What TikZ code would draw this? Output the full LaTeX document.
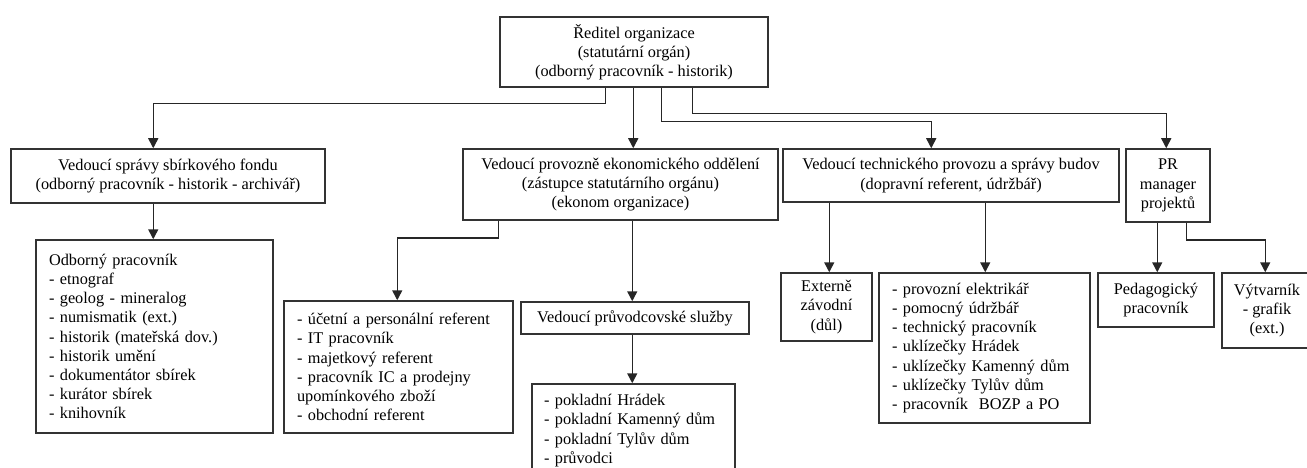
\documentclass[tikz,border=0pt]{standalone}
\usepackage{fontspec}
\setmainfont{Liberation Serif}
\usetikzlibrary{arrows.meta}
\begin{document}
\begin{tikzpicture}[x=1pt,y=-1pt,
  box/.style={draw=black!80, line width=1.5pt, inner sep=0pt, align=center,
    font=\fontsize{16.3}{19.2}\selectfont, minimum width=#1},
  listbox/.style={draw=black!80, line width=1.5pt, inner ysep=0pt, inner xsep=13pt, align=left,
    font=\fontsize{16.3}{19.2}\selectfont, text width=#1-26pt},
  arr/.style={draw=black!85, line width=1.5pt, -{Triangle[width=10pt,length=10pt]}}]
\clip (0,0) rectangle (1307,468);
\useasboundingbox (0,0) rectangle (1307,468);
\node[box=268pt, minimum height=70pt] (top) at (634,52) {Ředitel organizace\\(statutární orgán)\\(odborný pracovník - historik)};
\node[box=314pt, minimum height=54pt] (b1) at (168,176) {Vedoucí správy sbírkového fondu\\(odborný pracovník - historik - archivář)};
\node[listbox=237pt, minimum height=193pt] (odb) at (154.5,336.5) {Odborný pracovník\\- etnograf\\- geolog - mineralog\\- numismatik (ext.)\\- historik (mateřská dov.)\\- historik umění\\- dokumentátor sbírek\\- kurátor sbírek\\- knihovník};
\node[box=315pt, minimum height=71pt] (b2) at (620.5,184.5) {Vedoucí provozně ekonomického oddělení\\(zástupce statutárního orgánu)\\(ekonom organizace)};
\node[listbox=229pt, minimum height=132pt] (uc) at (398.5,367) {- účetní a personální referent\\- IT pracovník\\- majetkový referent\\- pracovník IC a prodejny\\upomínkového zboží\\- obchodní referent};
\node[box=228pt, minimum height=32pt] (pru) at (635,318) {Vedoucí průvodcovské služby};
\node[listbox=203pt, inner xsep=12pt, text width=179pt, minimum height=93pt] (pok) at (633.5,430.5) {- pokladní Hrádek\\- pokladní Kamenný dům\\- pokladní Tylův dům\\- průvodci};
\node[box=336pt, minimum height=53pt] (tech) at (951,175.5) {Vedoucí technického provozu a správy budov\\(dopravní referent, údržbář)};
\node[box=91pt, minimum height=68pt] (ext) at (826.5,307) {Externě\\závodní\\(důl)};
\node[listbox=211pt, minimum height=150pt] (list) at (984.5,348) {- provozní elektrikář\\- pomocný údržbář\\- technický pracovník\\- uklízečky Hrádek\\- uklízečky Kamenný dům\\- uklízečky Tylův dům\\- pracovník~ BOZP a PO};
\node[box=84pt, minimum height=73pt] (pr) at (1168,185.5) {PR\\manager\\projektů};
\node[box=116pt, minimum height=54pt] (ped) at (1156,300) {Pedagogický\\pracovník};
\node[box=90pt, minimum height=75pt] (vyt) at (1267,310.5) {Výtvarník\\- grafik\\(ext.)};
% connectors
\draw[arr] ([xshift=106pt]top.south west) -- ++(0,16) -| ([xshift=143pt]b1.north west);
\draw[arr] ([xshift=134pt]top.south west) -- ([xshift=134pt]top.south west |- b2.north);
\draw[arr] ([xshift=162pt]top.south west) -- ++(0,34) -| ([xshift=149pt]tech.north west);
\draw[arr] ([xshift=193pt]top.south west) -- ++(0,26) -| ([xshift=41pt]pr.north west);
\draw[arr] ([xshift=143pt]b1.south west) -- ([xshift=143pt]b1.south west |- odb.north);
\draw[arr] ([xshift=36pt]b2.south west) -- ++(0,17) -| ([xshift=114pt]uc.north west);
\draw[arr] ([xshift=170pt]b2.south west) -- ([xshift=170pt]b2.south west |- pru.north);
\draw[arr] ([xshift=112pt]pru.south west) -- ([xshift=112pt]pru.south west |- pok.north);
\draw[arr] ([xshift=47pt]tech.south west) -- ([xshift=47pt]tech.south west |- ext.north);
\draw[arr] ([xshift=203pt]tech.south west) -- ([xshift=203pt]tech.south west |- list.north);
\draw[arr] ([xshift=32pt]pr.south west) -- ([xshift=32pt]pr.south west |- ped.north);
\draw[arr] ([xshift=61pt]pr.south west) -- ++(0,17) -| ([xshift=44pt]vyt.north west);
\end{tikzpicture}
\end{document}
